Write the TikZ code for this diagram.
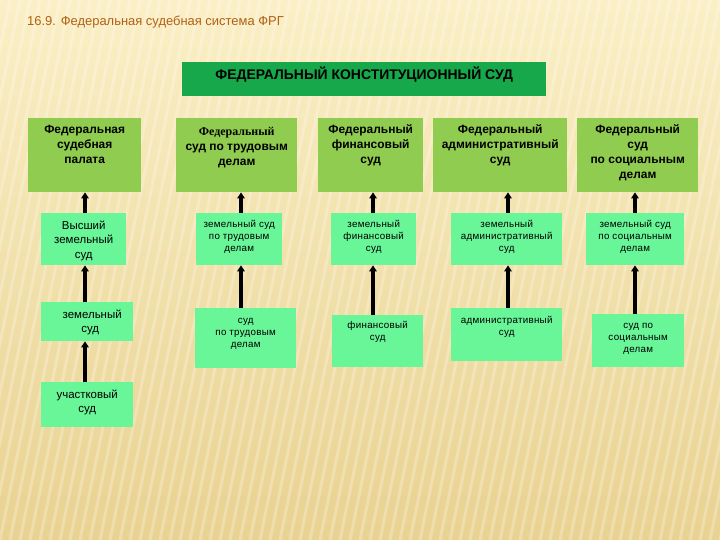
\documentclass[tikz,border=0pt]{standalone}
\usepackage{fontspec}
\setmainfont{Liberation Sans}
\newfontfamily\serifb{Liberation Serif}
\newfontfamily\spaced[LetterSpace=3]{Liberation Sans}
\usetikzlibrary{arrows.meta}
\definecolor{bgtop}{RGB}{250,239,198}
\definecolor{bgbot}{RGB}{233,210,145}
\definecolor{topg}{RGB}{22,168,74}
\definecolor{fedg}{RGB}{144,204,80}
\definecolor{landg}{RGB}{104,246,152}
\definecolor{ttl}{RGB}{178,96,22}
\newcommand\fedf{\fontsize{12}{15}\selectfont\bfseries}
\newcommand\landbig{\fontsize{11.5}{14.5}\selectfont}
\newcommand\landsm{\spaced\fontsize{9.8}{12}\selectfont}
% name, style, x1, y1, x2, y2, font, first-baseline offset, text
\newcommand{\court}[9]{%
  \pgfmathsetmacro\cw{#5-#3}\pgfmathsetmacro\ch{#6-#4}%
  \node[#2, anchor=north west, inner sep=0pt] (#1) at (#3,#4)
    {\begin{minipage}[t][\ch bp][t]{\cw bp}\centering #7\rule{0pt}{#8bp}#9\end{minipage}};}
\tikzset{
  topbox/.style={fill=topg},
  fedbox/.style={fill=fedg},
  landbox/.style={fill=landg},
  arr/.style={-{Triangle[length=6bp,width=7.5bp]}, line width=3.2bp, black},
  stripe/.style={line width=3bp, white, opacity=0.25}
}
\begin{document}
\begin{tikzpicture}[x=1bp,y=-1bp]
\useasboundingbox (0,0) rectangle (720,540);
\fill[top color=bgtop, bottom color=bgbot] (0,0) rectangle (720,540);
\begin{scope}
\clip (0,0) rectangle (720,540);
\foreach \i in {-200,-190,...,720} \draw[stripe] (\i,540) -- (\i+110,0);
\end{scope}

\node[anchor=west, text=ttl, inner sep=0pt, font=\fontsize{13}{15}\selectfont] (title) at (27,22) {16.9. Федеральная судебная система ФРГ};

\court{top}{topbox}{182}{62}{546}{96}{\fontsize{14}{15}\selectfont\bfseries}{17}{ФЕДЕРАЛЬНЫЙ КОНСТИТУЦИОННЫЙ СУД}

\court{B1}{fedbox}{28}{118}{141}{192}{\fedf}{15}{Федеральная\\судебная\\палата}
\court{B2}{fedbox}{176}{118}{297}{192}{\fedf}{17}{{\serifb Федеральный}\\суд по трудовым\\делам}
\court{B3}{fedbox}{318}{118}{423}{192}{\fedf}{15}{Федеральный\\финансовый\\суд}
\court{B4}{fedbox}{433}{118}{567}{192}{\fedf}{15}{Федеральный\\административный\\суд}
\court{B5}{fedbox}{577}{118}{698}{192}{\fedf}{15}{Федеральный\\суд\\по социальным\\делам}

\court{C1}{landbox}{41}{213}{126}{265}{\landbig}{16}{Высший\\земельный\\суд}
\court{C2}{landbox}{196}{213}{282}{265}{\landsm}{14}{земельный суд\\по трудовым\\делам}
\court{C3}{landbox}{331}{213}{416}{265}{\landsm}{14}{земельный\\финансовый\\суд}
\court{C4}{landbox}{451}{213}{562}{265}{\landsm}{14}{земельный\\административный\\суд}
\court{C5}{landbox}{586}{213}{684}{265}{\landsm}{14}{земельный суд\\по социальным\\делам}

\court{D1}{landbox}{41}{302}{133}{341}{\landbig}{16}{\hspace*{10bp}земельный\\\hspace*{6bp}суд}
\court{D2}{landbox}{195}{308}{296}{368}{\landsm}{15}{суд\\по трудовым\\делам}
\court{D3}{landbox}{332}{315}{423}{367}{\landsm}{13}{финансовый\\суд}
\court{D4}{landbox}{451}{308}{562}{361}{\landsm}{15}{административный\\суд}
\court{D5}{landbox}{592}{314}{684}{367}{\landsm}{14}{суд по\\социальным\\делам}

\court{E1}{landbox}{41}{382}{133}{427}{\landbig}{16}{участковый\\суд}

\coordinate (k1) at (85,0);
\coordinate (k2) at (241,0);
\coordinate (k3) at (373,0);
\coordinate (k4) at (508,0);
\coordinate (k5) at (635,0);

\draw[arr] (C1.north -| k1) -- (B1.south -| k1);
\draw[arr] (D1.north -| k1) -- (C1.south -| k1);
\draw[arr] (E1.north -| k1) -- (D1.south -| k1);
\draw[arr] (C2.north -| k2) -- (B2.south -| k2);
\draw[arr] (D2.north -| k2) -- (C2.south -| k2);
\draw[arr] (C3.north -| k3) -- (B3.south -| k3);
\draw[arr] (D3.north -| k3) -- (C3.south -| k3);
\draw[arr] (C4.north -| k4) -- (B4.south -| k4);
\draw[arr] (D4.north -| k4) -- (C4.south -| k4);
\draw[arr] (C5.north -| k5) -- (B5.south -| k5);
\draw[arr] (D5.north -| k5) -- (C5.south -| k5);
\end{tikzpicture}
\end{document}
